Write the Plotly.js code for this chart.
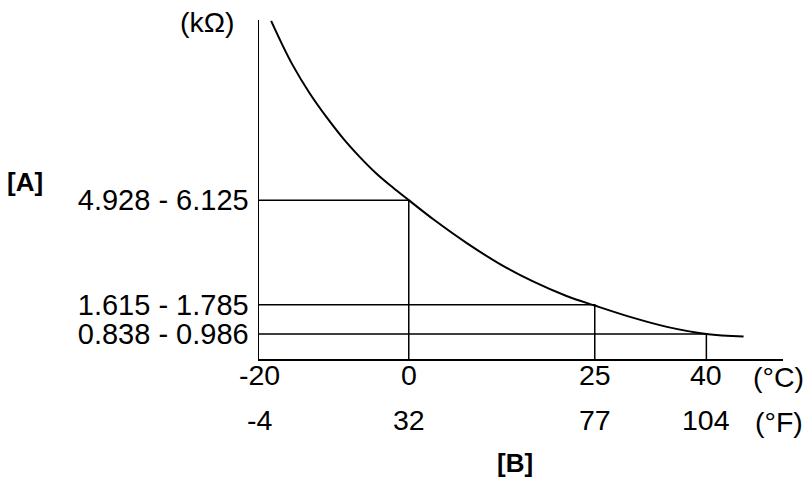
<!DOCTYPE html>
<html>
<head>
<meta charset="utf-8">
<script src="https://cdn.plot.ly/plotly-3.0.1.min.js"></script>
<style>
  html, body { margin: 0; padding: 0; background: #fff; }
  #chart { width: 812px; height: 485px; }
</style>
</head>
<body>
<div id="chart"></div>
<script>
// Thermistor resistance vs temperature.
const curveTemp = [-18.5, -17.1, -15.6, -13.3, -11.1, -8.8, -6.6, -4.4, -2.1, 0, 3.3, 7.8, 12.2, 16.7, 21.2, 25, 30.2, 34.7, 40, 45];
const curveKohm = [10.97, 10.25, 9.54, 8.62, 7.87, 7.16, 6.57, 6.04, 5.57, 5.17, 4.55, 3.78, 3.11, 2.54, 2.07, 1.76, 1.36, 1.07, 0.84, 0.76];

// reference temperatures and the resistance band drawn at each
const levelTemp = [0, 25, 40];
const levelKohm = [5.17, 1.785, 0.838];
const levelLabels = ['4.928 - 6.125', '1.615 - 1.785', '0.838 - 0.986'];

const celsiusTicks = [-20, 0, 25, 40];
const celsiusLabels = ['-20', '0', '25', '40'];
const fahrenheitLabels = ['-4', '32', '77', '104'];

const X_RANGE = [-20.13, 50.3];
const Y_RANGE = [0.03, 11.0];
const FONT = 'Liberation Sans, Arial, sans-serif';
const SIZE = 28.5;

// one connector per reference temperature: y-axis -> curve -> x-axis
const refTraces = levelTemp.map((t, i) => ({
  type: 'scatter', mode: 'lines',
  x: [X_RANGE[0], t, t],
  y: [levelKohm[i], levelKohm[i], Y_RANGE[0]],
  line: { color: '#000', width: 1.5 },
  hoverinfo: 'skip', showlegend: false
}));

const traces = refTraces.concat([{
  type: 'scatter', mode: 'lines',
  x: curveTemp, y: curveKohm,
  line: { color: '#000', width: 2, shape: 'spline', smoothing: 1 },
  hoverinfo: 'skip', showlegend: false
}]);

// two rows of temperature labels under the axis
const rowAnn = (labels, shift) => labels.map((txt, i) => ({
  x: celsiusTicks[i], xref: 'x', y: 0, yref: 'paper',
  text: txt, showarrow: false, xanchor: 'center', yanchor: 'middle',
  yshift: shift, font: { family: FONT, size: SIZE, color: '#000' }
}));

const annotations = rowAnn(celsiusLabels, -16).concat(rowAnn(fahrenheitLabels, -61), [
  { x: 0.992, xref: 'paper', y: 0, yref: 'paper', yshift: -18, text: '(°C)',
    showarrow: false, xanchor: 'center', yanchor: 'middle', font: { family: FONT, size: SIZE, color: '#000' } },
  { x: 0.992, xref: 'paper', y: 0, yref: 'paper', yshift: -63, text: '(°F)',
    showarrow: false, xanchor: 'center', yanchor: 'middle', font: { family: FONT, size: SIZE, color: '#000' } },
  { x: 0.4885, xref: 'paper', y: 0, yref: 'paper', yshift: -104, text: '<b>[B]</b>',
    showarrow: false, xanchor: 'center', yanchor: 'middle', font: { family: FONT, size: 26, color: '#000' } },
  { x: -0.4466, xref: 'paper', y: 0.521, yref: 'paper', text: '<b>[A]</b>',
    showarrow: false, xanchor: 'center', yanchor: 'middle', font: { family: FONT, size: 26, color: '#000' } },
  { x: -0.0983, xref: 'paper', y: 0.994, yref: 'paper', text: '(kΩ)',
    showarrow: false, xanchor: 'center', yanchor: 'middle', font: { family: FONT, size: SIZE, color: '#000' } }
]);

const layout = {
  width: 812, height: 485,
  paper_bgcolor: '#fff', plot_bgcolor: '#fff',
  font: { family: FONT, size: SIZE, color: '#000' },
  margin: { l: 259, r: 29, t: 20, b: 126 },
  showlegend: false,
  xaxis: {
    range: X_RANGE, showgrid: false, zeroline: false,
    showline: true, linecolor: '#000', linewidth: 1.5,
    showticklabels: false, ticks: ''
  },
  yaxis: {
    range: Y_RANGE, showgrid: false, zeroline: false,
    showline: true, linecolor: '#000', linewidth: 1.5,
    tickmode: 'array', tickvals: levelKohm, ticktext: levelLabels,
    ticks: '', ticklabelstandoff: 3,
    tickfont: { family: FONT, size: 29, color: '#000' }
  },
  annotations: annotations
};

Plotly.newPlot('chart', traces, layout, { displayModeBar: false, staticPlot: true });
</script>
</body>
</html>
